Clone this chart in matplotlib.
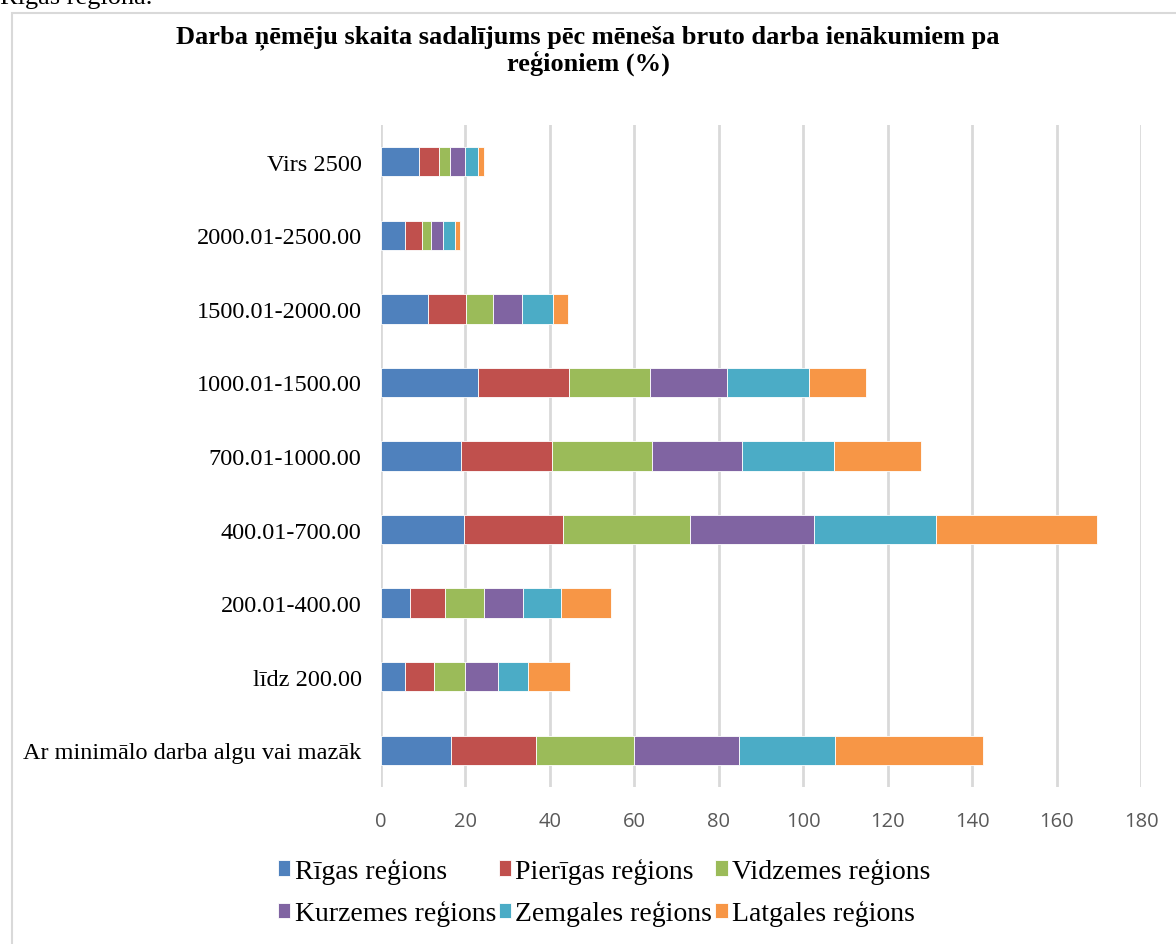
import matplotlib
matplotlib.use("Agg")
import matplotlib.pyplot as plt
import numpy as np
from matplotlib.patches import Rectangle

categories = ["Ar minimālo darba algu vai mazāk", "līdz 200.00", "200.01-400.00",
              "400.01-700.00", "700.01-1000.00", "1000.01-1500.00",
              "1500.01-2000.00", "2000.01-2500.00", "Virs 2500"]
regions = ["Rīgas reģions", "Pierīgas reģions", "Vidzemes reģions",
           "Kurzemes reģions", "Zemgales reģions", "Latgales reģions"]

riga = [16.6, 5.7, 6.8, 19.7, 18.9, 23.0, 11.2, 5.6, 8.9]
pieriga = [20.0, 6.9, 8.3, 23.5, 21.6, 21.6, 9.0, 4.0, 4.9]
vidzeme = [23.4, 7.2, 9.2, 29.9, 23.7, 19.2, 6.3, 2.3, 2.6]
kurzeme = [24.7, 7.8, 9.4, 29.5, 21.3, 18.2, 7.0, 2.7, 3.5]
zemgale = [22.9, 7.3, 8.9, 28.8, 21.9, 19.4, 7.3, 2.9, 3.0]
latgale = [34.9, 9.8, 11.8, 38.2, 20.5, 13.4, 3.6, 1.2, 1.6]

colors = ["#4F81BD", "#C0504D", "#9BBB59", "#8064A2", "#4BACC6", "#F79646"]

fig = plt.figure(figsize=(11.76, 9.45), dpi=100)
fig.patch.set_facecolor("white")

# chart frame and the cut-off document text above it
fig.patches.append(Rectangle((12 / 1176, -0.01), 1.05, 1 - 14 / 945 + 0.01,
                             transform=fig.transFigure, fill=False,
                             edgecolor="#D9D9D9", linewidth=1.5))
fig.text(0.0, 1 - 4 / 945, "Rīgas reģiona.", family="Liberation Serif",
         fontsize=19, va="baseline", ha="left")

ax = fig.add_axes([381 / 1176, 1 - 788 / 945, (1141 - 381) / 1176, (788 - 126) / 945])

y = np.arange(len(categories))
left = np.zeros(len(categories))
for vals, name, c in zip([riga, pieriga, vidzeme, kurzeme, zemgale, latgale], regions, colors):
    ax.barh(y, vals, left=left, height=0.4, color=c, edgecolor="white",
            linewidth=0.6, label=name, zorder=3)
    left += np.array(vals)

ax.set_xlim(0, 180)
ax.set_ylim(-0.5, len(categories) - 0.5)
ax.set_xticks(range(0, 181, 20))
ax.set_yticks(y)
ax.set_yticklabels(categories, family="Liberation Serif", fontsize=17.5)
for lab in ax.get_xticklabels():
    lab.set_family("Open Sans")
    lab.set_fontsize(14.5)
    lab.set_color("#595959")
ax.tick_params(axis="both", length=0)
ax.tick_params(axis="y", pad=14)
ax.tick_params(axis="x", pad=17)
ax.grid(axis="x", color="#D9D9D9", linewidth=2, zorder=0)
for s in ax.spines.values():
    s.set_visible(False)

fig.suptitle("Darba ņēmēju skaita sadalījums pēc mēneša bruto darba ienākumiem pa\nreģioniem (%)",
             x=0.5, y=1 - 25 / 945, fontsize=19, fontweight="bold",
             family="Liberation Serif", va="top", linespacing=1.05)

# legend fills column-first, so reorder to read row by row
handles, labels = ax.get_legend_handles_labels()
order = [0, 3, 1, 4, 2, 5]
fig.legend([handles[i] for i in order], [labels[i] for i in order],
           loc="center", bbox_to_anchor=(604 / 1176, 1 - 893 / 945), ncol=3,
           frameon=False, prop={"family": "Liberation Serif", "size": 20},
           handlelength=0.45, handleheight=0.5, handletextpad=0.15,
           columnspacing=0.1, labelspacing=0.6)

fig.savefig("out.png", dpi=100)
